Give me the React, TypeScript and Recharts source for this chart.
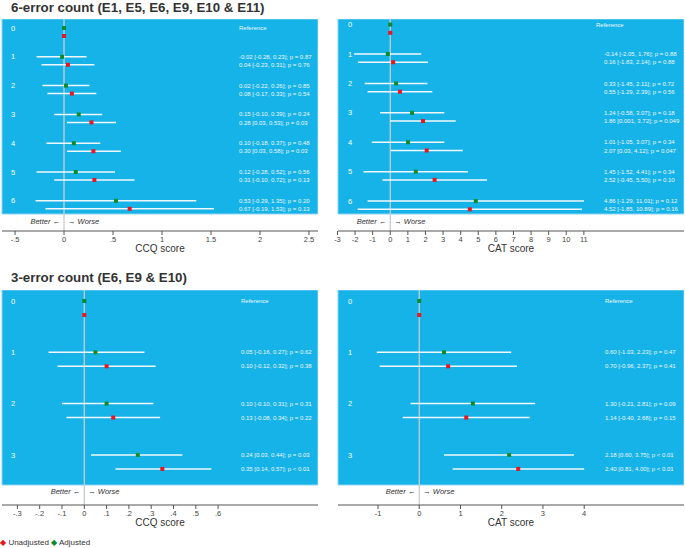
import React from 'react';
import { ComposedChart, Scatter, ErrorBar, XAxis, YAxis, ReferenceArea, ReferenceLine } from 'recharts';

const BLUE = '#16b3e9';
const GREEN = '#0e8a2d';
const RED = '#e8161e';
const WHISKER = '#f1f8fc';
const FONT = "'Liberation Sans', Arial, Helvetica, sans-serif";
const PAD = 10;

// ---------- categories ----------
const rowLabels6 = ['0', '1', '2', '3', '4', '5', '6'];
const rowLabels3 = ['0', '1', '2', '3'];

// ---------- 6-error count, CCQ ----------
const ccq6AdjEst = [0, -0.02, 0.02, 0.15, 0.1, 0.12, 0.53];
const ccq6AdjLo = [0, -0.28, -0.22, -0.1, -0.18, -0.28, -0.29];
const ccq6AdjHi = [0, 0.23, 0.26, 0.39, 0.37, 0.52, 1.35];
const ccq6AdjP = ['', '0.87', '0.85', '0.24', '0.48', '0.56', '0.20'];
const ccq6UnEst = [0, 0.04, 0.08, 0.28, 0.3, 0.31, 0.67];
const ccq6UnLo = [0, -0.23, -0.17, 0.03, 0.03, -0.1, -0.19];
const ccq6UnHi = [0, 0.31, 0.33, 0.53, 0.58, 0.72, 1.53];
const ccq6UnP = ['', '0.76', '0.54', '0.03', '0.03', '0.13', '0.13'];

// ---------- 6-error count, CAT ----------
const cat6AdjEst = [0, -0.14, 0.33, 1.24, 1.01, 1.45, 4.86];
const cat6AdjLo = [0, -2.05, -1.45, -0.58, -1.05, -1.52, -1.29];
const cat6AdjHi = [0, 1.76, 2.11, 3.07, 3.07, 4.41, 11.01];
const cat6AdjP = ['', '0.88', '0.72', '0.18', '0.34', '0.34', '0.12'];
const cat6UnEst = [0, 0.16, 0.55, 1.86, 2.07, 2.52, 4.52];
const cat6UnLo = [0, -1.83, -1.29, 0.001, 0.03, -0.45, -1.85];
const cat6UnHi = [0, 2.14, 2.39, 3.72, 4.12, 5.5, 10.89];
const cat6UnP = ['', '0.88', '0.56', '0.049', '0.047', '0.10', '0.16'];

// ---------- 3-error count, CCQ ----------
const ccq3AdjEst = [0, 0.05, 0.1, 0.24];
const ccq3AdjLo = [0, -0.16, -0.1, 0.03];
const ccq3AdjHi = [0, 0.27, 0.31, 0.44];
const ccq3AdjP = ['', '0.62', '0.31', '0.03'];
const ccq3UnEst = [0, 0.1, 0.13, 0.35];
const ccq3UnLo = [0, -0.12, -0.08, 0.14];
const ccq3UnHi = [0, 0.32, 0.34, 0.57];
const ccq3UnP = ['', '0.38', '0.22', '<0.01'];

// ---------- 3-error count, CAT ----------
const cat3AdjEst = [0, 0.6, 1.3, 2.18];
const cat3AdjLo = [0, -1.03, -0.21, 0.6];
const cat3AdjHi = [0, 2.23, 2.81, 3.75];
const cat3AdjP = ['', '0.47', '0.09', '<0.01'];
const cat3UnEst = [0, 0.7, 1.14, 2.4];
const cat3UnLo = [0, -0.96, -0.4, 0.81];
const cat3UnHi = [0, 2.37, 2.68, 4.0];
const cat3UnP = ['', '0.41', '0.15', '<0.01'];

// ---------- tick labels ----------
const ccq6Ticks = [-0.5, 0, 0.5, 1, 1.5, 2, 2.5];
const cat6Ticks = [-3, -2, -1, 0, 1, 2, 3, 4, 5, 6, 7, 8, 9, 10, 11];
const ccq3Ticks = [-0.3, -0.2, -0.1, 0, 0.1, 0.2, 0.3, 0.4, 0.5, 0.6];
const cat3Ticks = [-1, 0, 1, 2, 3, 4];

const fmtNum = (v: number) => {
  const s = v.toFixed(2);
  return Number(s) === v ? s : String(v);
};
const fmtP = (p: string) => (p.startsWith('<') ? `p < ${p.slice(1)}` : `p = ${p}`);
const fmtTick = (v: number) => String(Number(v.toFixed(2))).replace(/^(-?)0\./, '$1.');

type Series = { est: number[]; lo: number[]; hi: number[]; p: string[] };

type PanelProps = {
  left: number;
  top: number;
  width: number;
  plotHeight: number;
  xDomain: [number, number];
  xTicks: number[];
  xLabel: string;
  yTop: number;
  yBottom: number;
  blueBottom: number;
  redShift: number;
  rowLabels: string[];
  adj: Series;
  un: Series;
  textX: number;
  refX: number;
  labelX: number;
  bwOffset: number;
};

function Panel(props: PanelProps) {
  const { left, top, width, plotHeight, xDomain, xTicks, xLabel, yTop, yBottom, blueBottom, redShift, rowLabels, adj, un, textX, refX, labelX, bwOffset } = props;
  const adjData = rowLabels.map((_, i) => ({ x: adj.est[i], y: i, err: [adj.est[i] - adj.lo[i], adj.hi[i] - adj.est[i]] }));
  const unData = rowLabels.map((_, i) => ({ x: un.est[i], y: i + redShift, err: [un.est[i] - un.lo[i], un.hi[i] - un.est[i]] }));
  const textTicks: number[] = [];
  const texts: string[] = [];
  rowLabels.forEach((_, i) => {
    textTicks.push(i);
    texts.push(i === 0 ? 'Reference' : `${fmtNum(adj.est[i])} [${fmtNum(adj.lo[i])}, ${fmtNum(adj.hi[i])}]; ${fmtP(adj.p[i])}`);
    if (i > 0) {
      textTicks.push(i + redShift);
      texts.push(`${fmtNum(un.est[i])} [${fmtNum(un.lo[i])}, ${fmtNum(un.hi[i])}]; ${fmtP(un.p[i])}`);
    }
  });
  const findText = (v: number) => {
    const k = textTicks.findIndex((t) => Math.abs(t - v) < 1e-6);
    return k >= 0 ? texts[k] : '';
  };
  const square = (color: string) => (p: any) => (
    <rect x={p.cx - 2} y={p.cy - 2} width={4} height={4} fill={color} />
  );
  const bwLabel = (p: any) => {
    const vb = p.viewBox || {};
    const yy = vb.y + vb.height - bwOffset;
    return (
      <g>
        <text x={vb.x - 4} y={yy} dy="0.35em" textAnchor="end" fontSize={7.5} fontStyle="italic" fill="#333" fontFamily={FONT}>
          Better ←
        </text>
        <text x={vb.x + 4} y={yy} dy="0.35em" textAnchor="start" fontSize={7.5} fontStyle="italic" fill="#333" fontFamily={FONT}>
          → Worse
        </text>
      </g>
    );
  };
  return (
    <div style={{ position: 'absolute', left: left - PAD, top }}>
      <ComposedChart width={width + PAD} height={plotHeight + 30} margin={{ top: 0, right: 0, bottom: 0, left: PAD }} style={{ fontFamily: FONT }}>
        <ReferenceArea
          yAxisId="l"
          x1={xDomain[0]}
          x2={xDomain[1]}
          y1={yTop}
          y2={blueBottom}
          fill={BLUE}
          fillOpacity={1}
          stroke="#8ad4f2"
          strokeWidth={1}
          ifOverflow="visible"
        />
        <ReferenceLine yAxisId="l" x={0} stroke="#c6cdd3" strokeWidth={1.3} label={bwLabel} />
        <Scatter yAxisId="l" data={adjData} isAnimationActive={false} shape={square(GREEN)}>
          <ErrorBar dataKey="err" direction="x" width={0} stroke={WHISKER} strokeWidth={1.5} />
        </Scatter>
        <Scatter yAxisId="l" data={unData} isAnimationActive={false} shape={square(RED)}>
          <ErrorBar dataKey="err" direction="x" width={0} stroke={WHISKER} strokeWidth={1.5} />
        </Scatter>
        <XAxis
          type="number"
          dataKey="x"
          domain={xDomain}
          ticks={xTicks}
          interval={0}
          allowDataOverflow
          tickFormatter={fmtTick}
          stroke="#555"
          tickSize={4}
          tick={{ fontSize: 7.5, fill: '#444' }}
          height={30}
          label={{ value: xLabel, position: 'insideBottom', offset: 9, fontSize: 10, fill: '#333' }}
        />
        <YAxis
          yAxisId="l"
          type="number"
          dataKey="y"
          domain={[yTop, yBottom]}
          reversed
          allowDataOverflow
          mirror
          width={20}
          ticks={rowLabels.map((_, i) => i)}
          interval={0}
          axisLine={false}
          tickLine={false}
          tick={(p: any) => (
            <text x={PAD + labelX} y={p.y} dy="0.35em" fill="#ffffff" fontSize={7.5} fontFamily={FONT}>
              {rowLabels[Math.round(p.payload.value)]}
            </text>
          )}
        />
        <YAxis
          yAxisId="r"
          orientation="right"
          type="number"
          domain={[yTop, yBottom]}
          reversed
          allowDataOverflow
          mirror
          width={20}
          ticks={textTicks}
          interval={0}
          axisLine={false}
          tickLine={false}
          tick={(p: any) => {
            const t = findText(p.payload.value);
            return (
              <text x={PAD + (t === 'Reference' ? refX : textX)} y={p.y} dy="0.35em" fill="#eef7fc" fontSize={6} fontFamily={FONT}>
                {t}
              </text>
            );
          }}
        />
      </ComposedChart>
    </div>
  );
}

const titleStyle: React.CSSProperties = {
  position: 'absolute',
  left: 11,
  fontSize: 13.3,
  fontWeight: 'bold',
  color: '#333',
  lineHeight: '16px',
  whiteSpace: 'nowrap',
};

export default function App() {
  return (
    <div style={{ position: 'absolute', left: 0, top: 0, width: 685, height: 548, background: '#fff', fontFamily: FONT, overflow: 'hidden' }}>
      <div style={{ ...titleStyle, top: 0 }}>6-error count (E1, E5, E6, E9, E10 &amp; E11)</div>
      <div style={{ ...titleStyle, top: 270 }}>3-error count (E6, E9 &amp; E10)</div>

      <Panel
        left={2}
        top={19}
        width={316}
        plotHeight={212}
        xDomain={[-0.633, 2.592]}
        xTicks={ccq6Ticks}
        xLabel="CCQ score"
        yTop={-0.3125}
        yBottom={7.049}
        blueBottom={6.458}
        redShift={0.278}
        rowLabels={rowLabels6}
        adj={{ est: ccq6AdjEst, lo: ccq6AdjLo, hi: ccq6AdjHi, p: ccq6AdjP }}
        un={{ est: ccq6UnEst, lo: ccq6UnLo, hi: ccq6UnHi, p: ccq6UnP }}
        textX={237}
        refX={237}
        labelX={9}
        bwOffset={10}
      />
      <Panel
        left={338}
        top={19}
        width={346}
        plotHeight={212}
        xDomain={[-2.97, 16.69]}
        xTicks={cat6Ticks}
        xLabel="CAT score"
        yTop={-0.19}
        yBottom={7.017}
        blueBottom={6.439}
        redShift={0.28}
        rowLabels={rowLabels6}
        adj={{ est: cat6AdjEst, lo: cat6AdjLo, hi: cat6AdjHi, p: cat6AdjP }}
        un={{ est: cat6UnEst, lo: cat6UnLo, hi: cat6UnHi, p: cat6UnP }}
        textX={266}
        refX={258}
        labelX={10}
        bwOffset={10}
      />
      <Panel
        left={2}
        top={290}
        width={316}
        plotHeight={215}
        xDomain={[-0.369, 1.048]}
        xTicks={ccq3Ticks}
        xLabel="CCQ score"
        yTop={-0.214}
        yBottom={3.977}
        blueBottom={3.587}
        redShift={0.273}
        rowLabels={rowLabels3}
        adj={{ est: ccq3AdjEst, lo: ccq3AdjLo, hi: ccq3AdjHi, p: ccq3AdjP }}
        un={{ est: ccq3UnEst, lo: ccq3UnLo, hi: ccq3UnHi, p: ccq3UnP }}
        textX={239}
        refX={239}
        labelX={9}
        bwOffset={14}
      />
      <Panel
        left={338}
        top={290}
        width={346}
        plotHeight={215}
        xDomain={[-1.97, 6.42]}
        xTicks={cat3Ticks}
        xLabel="CAT score"
        yTop={-0.214}
        yBottom={3.977}
        blueBottom={3.587}
        redShift={0.273}
        rowLabels={rowLabels3}
        adj={{ est: cat3AdjEst, lo: cat3AdjLo, hi: cat3AdjHi, p: cat3AdjP }}
        un={{ est: cat3UnEst, lo: cat3UnLo, hi: cat3UnHi, p: cat3UnP }}
        textX={267}
        refX={267}
        labelX={10}
        bwOffset={14}
      />

      <div style={{ position: 'absolute', left: 0, top: 537, fontSize: 8, lineHeight: '12px', color: '#333', whiteSpace: 'nowrap' }}>
        <span style={{ color: RED, fontFamily: 'DejaVu Sans' }}>◆</span> Unadjusted{' '}
        <span style={{ color: GREEN, fontFamily: 'DejaVu Sans' }}>◆</span> Adjusted
      </div>
    </div>
  );
}
